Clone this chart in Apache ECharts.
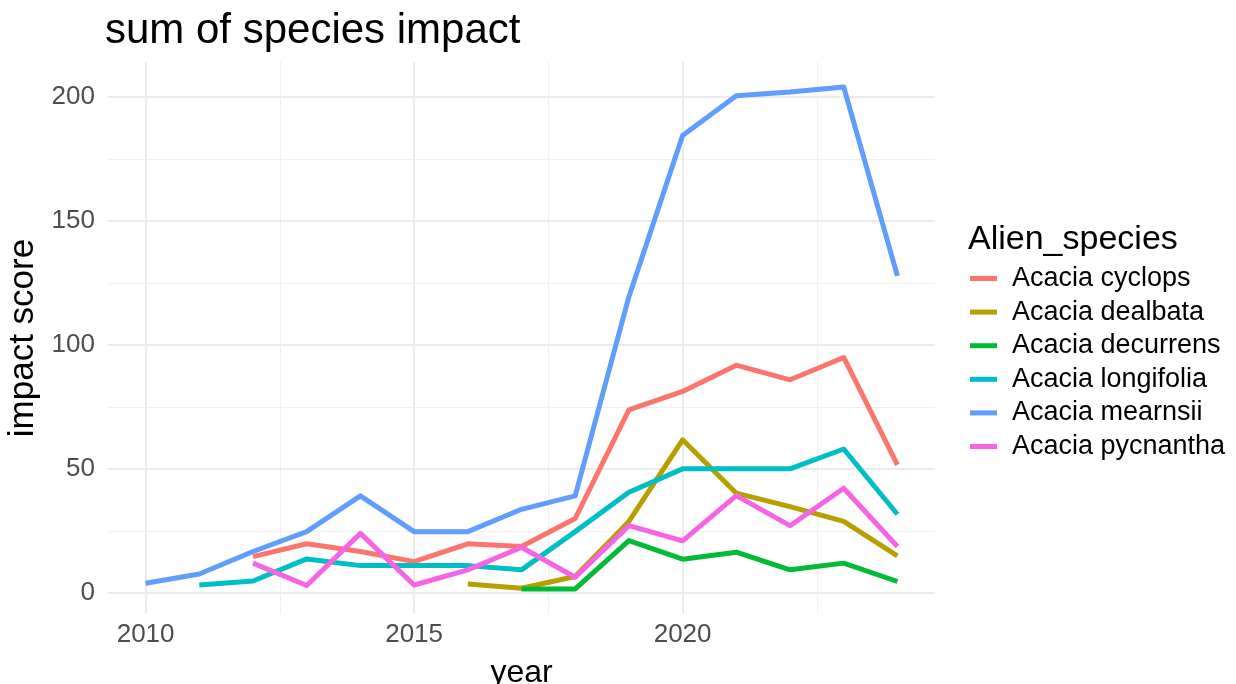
<!DOCTYPE html>
<html>
<head>
<meta charset="utf-8">
<script src="https://cdn.jsdelivr.net/npm/echarts@6/dist/echarts.min.js"></script>
<style>
  html, body { margin: 0; padding: 0; background: #fff; }
  #chart { width: 1236px; height: 684px; }
</style>
</head>
<body>
<div id="chart"></div>
<script>
// data
var years = [2010, 2011, 2012, 2013, 2014, 2015, 2016, 2017, 2018, 2019, 2020, 2021, 2022, 2023, 2024];
var speciesNames = ['Acacia cyclops', 'Acacia dealbata', 'Acacia decurrens', 'Acacia longifolia', 'Acacia mearnsii', 'Acacia pycnantha'];
var cyclops    = [null, null, 14.6, 19.8, 16.7, 12.6, 19.8, 18.7, 30, 73.8, 81.2, 91.8, 85.9, 94.9, 51.6];
var dealbata   = [null, null, null, null, null, null, 3.6, 1.9, 6.6, 28.8, 61.7, 40.2, 34.8, 28.8, 14.9];
var decurrens  = [null, null, null, null, null, null, null, 1.6, 1.6, 21.1, 13.6, 16.4, 9.3, 12, 4.6];
var longifolia = [null, 3.2, 4.8, 13.7, 11, 11, 11, 9.3, 24.7, 40.6, 50, 50, 50, 58, 31.7];
var mearnsii   = [3.9, 7.6, 16.7, 24.7, 39.1, 24.7, 24.7, 33.7, 39.1, 119.4, 184.4, 200.4, 201.9, 203.9, 127.8];
var pycnantha  = [null, null, 12, 3, 24, 3.2, 9.3, 18.4, 6.3, 27.1, 21, 39.2, 27.1, 42.2, 18.7];

var xTicks = [2010, 2015, 2020];
var xMinor = [2012.5, 2017.5, 2022.5];
var yTicks = [0, 50, 100, 150, 200];
var yMinor = [25, 75, 125, 175];

var colors = ['#F8766D', '#B79F00', '#00BA38', '#00BFC4', '#619CFF', '#F564E3'];
var font = "'Liberation Sans', Arial, Helvetica, sans-serif";

var chart = echarts.init(document.getElementById('chart'));

function pairs(vals) {
    var out = [];
    for (var i = 0; i < years.length; i++) {
        out.push([years[i], vals[i]]);
    }
    return out;
}

var allValues = [cyclops, dealbata, decurrens, longifolia, mearnsii, pycnantha];
var series = [];
for (var i = 0; i < speciesNames.length; i++) {
    series.push({
        name: speciesNames[i],
        type: 'line',
        data: pairs(allValues[i]),
        symbol: 'none',
        z: 3,
        lineStyle: { width: 5, color: colors[i], cap: 'butt', join: 'round' },
        itemStyle: { color: colors[i] }
    });
}

// grid lines (ggplot-like, major + minor)
var gridLines = [];
xTicks.forEach(function (v) { gridLines.push({ xAxis: v, lineStyle: { color: '#ebebeb', width: 2 } }); });
xMinor.forEach(function (v) { gridLines.push({ xAxis: v, lineStyle: { color: '#f0f0f0', width: 1 } }); });
yTicks.forEach(function (v) { gridLines.push({ yAxis: v, lineStyle: { color: '#ebebeb', width: 2 } }); });
yMinor.forEach(function (v) { gridLines.push({ yAxis: v, lineStyle: { color: '#f0f0f0', width: 1 } }); });

series.push({
    name: 'grid',
    type: 'line',
    data: [],
    silent: true,
    z: 0,
    markLine: {
        silent: true,
        z: 0,
        animation: false,
        symbol: ['none', 'none'],
        label: { show: false },
        lineStyle: { type: 'solid' },
        data: gridLines
    }
});

var option = {
    animation: false,
    color: colors,
    textStyle: { fontFamily: font },
    title: [{
        text: 'sum of species impact',
        left: 100,
        top: 5,
        textStyle: { fontSize: 42, fontWeight: 'normal', color: '#000', fontFamily: font }
    }, {
        text: 'Alien_species',
        left: 963,
        top: 218,
        textStyle: { fontSize: 34, fontWeight: 'normal', color: '#000', fontFamily: font }
    }],
    legend: {
        data: speciesNames,
        orient: 'vertical',
        left: 970,
        top: 265,
        padding: 0,
        icon: 'rect',
        itemWidth: 27,
        itemHeight: 5,
        itemGap: 6.6,
        textStyle: { fontSize: 27, color: '#000', fontFamily: font, lineHeight: 27, padding: [0, 0, 0, 10] }
    },
    grid: { left: 108, right: 301, top: 62, bottom: 70, containLabel: false, outerBoundsMode: 'none' },
    xAxis: {
        type: 'value',
        min: 2009.3,
        max: 2024.7,
        name: 'year',
        nameLocation: 'middle',
        nameGap: 43,
        nameTextStyle: { fontSize: 32, color: '#000', fontFamily: font },
        axisLine: { show: false },
        axisTick: { show: false },
        splitLine: { show: false },
        axisLabel: {
            customValues: xTicks,
            formatter: function (v) { return String(v); },
            fontSize: 26,
            color: '#4d4d4d',
            margin: 8,
            fontFamily: font
        }
    },
    yAxis: {
        type: 'value',
        min: -8.5,
        max: 214,
        name: 'impact score',
        nameLocation: 'middle',
        nameGap: 66,
        nameTextStyle: { fontSize: 35, color: '#000', fontFamily: font },
        axisLine: { show: false },
        axisTick: { show: false },
        splitLine: { show: false },
        axisLabel: {
            customValues: yTicks,
            formatter: function (v) { return String(v); },
            fontSize: 26,
            color: '#4d4d4d',
            margin: 13,
            fontFamily: font
        }
    },
    series: series
};

chart.setOption(option);
</script>
</body>
</html>
